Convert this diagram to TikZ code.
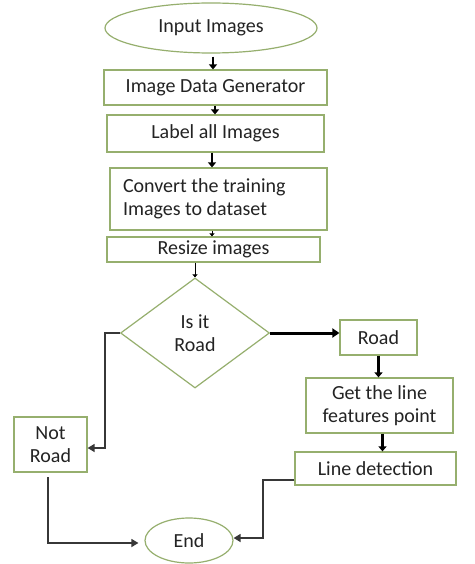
\documentclass[tikz,border=0pt]{standalone}
\usepackage{fontspec}
\setmainfont{Carlito}
\usetikzlibrary{shapes.geometric,arrows.meta,calc}
\definecolor{boxline}{RGB}{150,175,110}
\definecolor{txt}{RGB}{35,35,35}
\definecolor{conn}{RGB}{55,55,55}
\tikzset{
  base/.style={draw=boxline, line width=1.2pt, text=txt, inner sep=0pt,
    font=\fontsize{20}{23}\selectfont, align=center},
  box/.style={base, rectangle},
  oval/.style={base, ellipse},
  decision/.style={base, diamond, aspect=1.35},
  thickarrow/.style={line width=2.6pt, draw=black, -{Triangle[width=8pt,length=5pt]}},
  smallarrow/.style={line width=1pt, draw=black, -{Triangle[width=5pt,length=3pt]}},
  conline/.style={line width=1.5pt, draw=conn, -{Triangle[width=8pt,length=7pt]}},
}
\begin{document}
\begin{tikzpicture}[x=1pt,y=-1pt]
\useasboundingbox[fill=white] (0,0) rectangle (474,564);

\node[oval, minimum width=212pt, minimum height=50pt] (inp) at (211,28) {Input Images};
\node[box, minimum width=223pt, minimum height=35pt] (idg) at (215.5,87.5) {Image Data Generator};
\node[box, minimum width=217pt, minimum height=37pt] (lab) at (215.5,133.5) {Label all Images};
\node[box, minimum width=217pt, minimum height=62pt, align=flush left, text width=191pt] (conv) at (218.5,199) {Convert the training\\Images to dataset};
\node[box, minimum width=213pt, minimum height=25pt] (res) at (213.5,249.5) {Resize images};
\node[decision, minimum width=149pt, minimum height=110pt] (dia) at (195,333) {Is it\\Road};
\node[box, minimum width=77pt, minimum height=35pt] (road) at (378.5,337.5) {Road};
\node[box, minimum width=147pt, minimum height=55pt] (glf) at (379.5,405.5) {Get the line\\features point};
\node[box, minimum width=73pt, minimum height=55pt] (nr) at (50.5,444.5) {Not\\Road};
\node[box, minimum width=161pt, minimum height=33pt] (ld) at (375.5,468.5) {Line detection};
\node[oval, minimum width=88pt, minimum height=45pt] (end) at (189,540.5) {End};

% main column arrows
\coordinate (a1) at (213,0);
\draw[thickarrow] ([yshift=-3pt]inp.south -| a1) -- (idg.north -| a1);
\coordinate (a2) at (215,0);
\draw[thickarrow] (idg.south -| a2) -- (lab.north -| a2);
\coordinate (a3) at (212,0);
\draw[thickarrow] (lab.south -| a3) -- (conv.north -| a3);
\draw[smallarrow] (conv.south -| a3) -- (res.north -| a3);
\draw[smallarrow] (res.south -| dia.north) -- (dia.north);

% decision branches
\draw[line width=3pt, draw=black, -{Triangle[width=9pt,length=7pt]}] (dia.east) -- (road.west |- dia.east);
\draw[thickarrow] (road.south) -- (road.south |- glf.north);
\draw[thickarrow] ([xshift=3pt]glf.south) -- ([xshift=3pt]glf.south |- ld.north);

\coordinate (c1) at (105,333);
\coordinate (c2) at (105,448);
\draw[conline] (dia.west) -- (c1) -- (c2) -- (nr.east |- c2);

\coordinate (c3) at (48,477);
\coordinate (c4) at (48,543);
\draw[conline, shorten >=6pt] (c3) -- (c4) -- (end.west |- c4);

\coordinate (c5) at (263,480);
\coordinate (c6) at (263,538);
\draw[conline] (ld.west |- c5) -- (c5) -- (c6) -- (end.east |- c6);
\end{tikzpicture}
\end{document}
